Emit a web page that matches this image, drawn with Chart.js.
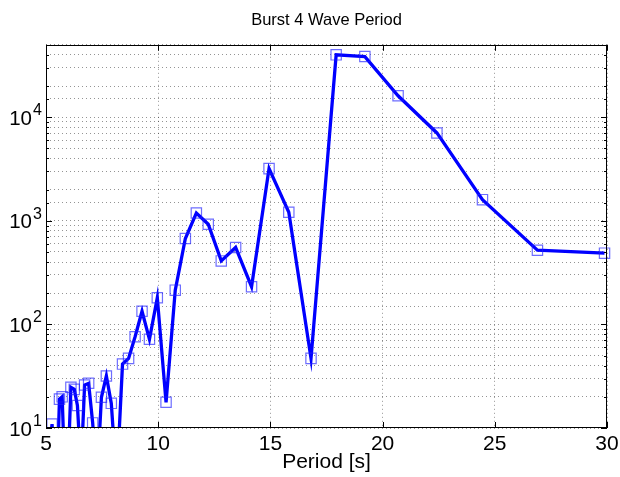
<!DOCTYPE html>
<html>
<head>
<meta charset="utf-8">
<script src="https://cdn.jsdelivr.net/npm/chart.js@4.4.1/dist/chart.umd.min.js"></script>
<style>
  html, body { margin: 0; padding: 0; background: #fff; }
  canvas { display: block; }
</style>
</head>
<body>
<canvas id="waveChart" width="620" height="477"></canvas>
<script>
// Burst 4: spectral energy against wave period (s)
const periods = [4.98, 5.08, 5.17, 5.27, 5.38, 5.49, 5.60, 5.72, 5.85, 5.98,
                 6.11, 6.26, 6.40, 6.56, 6.72, 6.90, 7.08, 7.27, 7.47, 7.69,
                 7.91, 8.15, 8.41, 8.68, 8.97, 9.28, 9.61, 9.96, 10.35, 10.76,
                 11.21, 11.70, 12.23, 12.81, 13.45, 14.16, 14.94, 15.82, 16.81, 17.93,
                 19.21, 20.69, 22.42, 24.45, 26.90, 29.89];
const energy = [3, 5, 7, 10.9, 4, 3, 19, 20, 3, 4,
                24.7, 23.6, 16.5, 4, 26, 27, 11.2, 3, 19.8, 31.8,
                17.3, 3, 41.4, 47, 76, 134, 71.8, 181, 17.7, 214,
                675, 1190, 927, 410, 553, 231, 3190, 1210, 47, 40000,
                38500, 16100, 7050, 1600, 520, 487];

const yDecades = [10, 100, 1000, 10000];
const yExponents = ['1', '2', '3', '4'];

const FONT = '"Liberation Sans", Arial, Helvetica, sans-serif';
const gridColor = 'rgba(0, 0, 0, 0.42)';
const gridDash = [1, 3];

// closed box, inward tick marks and 10^n labels on the y axis
const axesBox = {
    id: 'axesBox',
    afterDatasetsDraw(chart) {
        const { ctx, chartArea: a, scales: { x, y } } = chart;
        ctx.save();
        ctx.strokeStyle = '#000';
        ctx.lineWidth = 1;
        ctx.beginPath();
        x.ticks.forEach(t => {
            const px = Math.round(x.getPixelForValue(t.value)) + 0.5;
            ctx.moveTo(px, a.bottom);
            ctx.lineTo(px, a.bottom - 6);
            ctx.moveTo(px, a.top);
            ctx.lineTo(px, a.top + 6);
        });
        y.ticks.forEach(t => {
            const py = Math.round(y.getPixelForValue(t.value)) + 0.5;
            const len = yDecades.includes(t.value) ? 6 : 3;
            ctx.moveTo(a.left, py);
            ctx.lineTo(a.left + len, py);
            ctx.moveTo(a.right, py);
            ctx.lineTo(a.right - len, py);
        });
        ctx.stroke();
        ctx.strokeRect(Math.round(a.left) + 0.5, Math.round(a.top) + 0.5,
                       Math.round(a.right - a.left) - 1, Math.round(a.bottom - a.top) - 1);
        ctx.restore();
    },
    afterDraw(chart) {
        const { ctx, chartArea: a, scales: { y } } = chart;
        ctx.save();
        ctx.fillStyle = '#000';
        yDecades.forEach((v, i) => {
            const py = y.getPixelForValue(v);
            ctx.font = '20.5px ' + FONT;
            ctx.textAlign = 'right';
            ctx.textBaseline = 'alphabetic';
            ctx.fillText('10', a.left - 14, py + 7.5);
            ctx.font = '16px ' + FONT;
            ctx.textAlign = 'left';
            ctx.fillText(yExponents[i], a.left - 13, py - 2);
        });
        ctx.restore();
    }
};

new Chart(document.getElementById('waveChart'), {
    type: 'line',
    data: {
        datasets: [{
            data: periods.map((p, i) => ({ x: p, y: energy[i] })),
            borderColor: '#0000ff',
            borderWidth: 3.3,
            tension: 0,
            pointStyle: 'rect',
            pointRadius: 7.3,
            pointBorderWidth: 1.2,
            pointBorderColor: 'rgba(30, 30, 255, 0.65)',
            pointBackgroundColor: 'rgba(0, 0, 0, 0)',
            clip: { left: 8, top: 8, right: 8, bottom: 0 }
        }]
    },
    options: {
        responsive: false,
        animation: false,
        events: [],
        layout: { padding: { left: 0, right: 13, top: 0, bottom: 0 } },
        plugins: {
            legend: { display: false },
            tooltip: { enabled: false },
            title: {
                display: true,
                text: 'Burst 4 Wave Period',
                color: '#000',
                fullSize: false,
                font: { family: FONT, size: 16.5, weight: 'normal', lineHeight: 1.2 },
                padding: { top: 11, bottom: 14 }
            }
        },
        scales: {
            x: {
                type: 'linear',
                min: 5,
                max: 30,
                ticks: {
                    stepSize: 5,
                    color: '#000',
                    font: { family: FONT, size: 21 },
                    padding: 4,
                    maxRotation: 0
                },
                grid: { color: gridColor, drawTicks: false, borderDash: gridDash },
                border: { display: false, dash: gridDash },
                title: {
                    display: true,
                    text: 'Period [s]',
                    color: '#000',
                    font: { family: FONT, size: 21 },
                    padding: { top: 0, bottom: 2 }
                },
                afterFit(s) {
                    s.height = 49;
                    s.paddingLeft = 0;
                    s.paddingRight = 0;
                }
            },
            y: {
                type: 'logarithmic',
                min: 10,
                max: 50000,
                ticks: { display: false },
                grid: { color: gridColor, drawTicks: false, borderDash: gridDash },
                border: { display: false, dash: gridDash },
                afterFit(s) {
                    s.width = 46;
                    s.paddingTop = 0;
                    s.paddingBottom = 0;
                }
            }
        }
    },
    plugins: [axesBox]
});
</script>
</body>
</html>
